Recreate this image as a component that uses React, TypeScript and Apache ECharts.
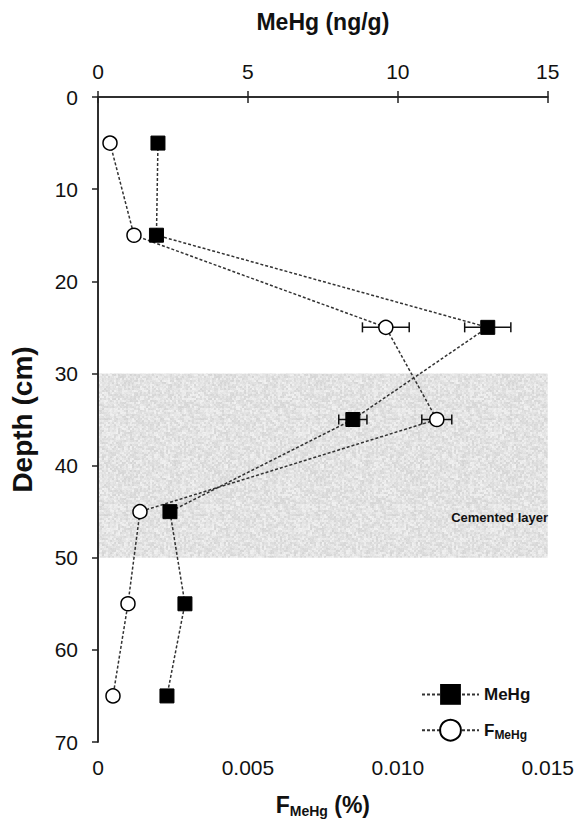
import React, { useEffect, useRef } from "react";
import * as echarts from "echarts";

const depths = [5, 15, 25, 35, 45, 55, 65];
const mehg = [2.0, 1.95, 13.0, 8.5, 2.4, 2.9, 2.3];
const mehgErr = [0, 0, 0.77, 0.47, 0, 0, 0];
const fmehg = [0.0004, 0.0012, 0.0096, 0.0113, 0.0014, 0.001, 0.0005];
const fmehgErr = [0, 0, 0.00078, 0.0005, 0, 0, 0];
const cemented = [30, 50];
const depthTicks = { min: 0, max: 70, interval: 10 };
const mehgTicks = { min: 0, max: 15, interval: 5 };
const fTicks = { min: 0, max: 0.015, interval: 0.005 };

const FONT = '"Liberation Sans", Arial, sans-serif';

function makeTexture(): HTMLCanvasElement | null {
  if (typeof document === "undefined") return null;
  const c = document.createElement("canvas");
  const n = 96;
  c.width = n;
  c.height = n;
  const ctx = c.getContext("2d");
  if (!ctx) return null;
  const img = ctx.createImageData(n, n);
  const hash = (i: number, j: number) => {
    const s = Math.sin(i * 12.9898 + j * 78.233) * 43758.5453;
    return s - Math.floor(s);
  };
  for (let y = 0; y < n; y++) {
    for (let x = 0; x < n; x++) {
      const a = hash(Math.floor(x / 2), Math.floor(y / 2));
      const b = hash(x + 17, y + 31);
      const v = Math.round(236 - a * 26 + b * 8);
      const k = (y * n + x) * 4;
      img.data[k] = v;
      img.data[k + 1] = v;
      img.data[k + 2] = v;
      img.data[k + 3] = 255;
    }
  }
  ctx.putImageData(img, 0, 0);
  return c;
}

function errRender(params: any, api: any) {
  const x = api.value(0);
  const y = api.value(1);
  const e = api.value(2);
  if (!e) return null;
  const p1 = api.coord([x - e, y]);
  const p2 = api.coord([x + e, y]);
  const cap = 5;
  const style = { stroke: "#111", lineWidth: 1.5 };
  return {
    type: "group",
    children: [
      { type: "line", shape: { x1: p1[0], y1: p1[1], x2: p2[0], y2: p2[1] }, style },
      { type: "line", shape: { x1: p1[0], y1: p1[1] - cap, x2: p1[0], y2: p1[1] + cap }, style },
      { type: "line", shape: { x1: p2[0], y1: p2[1] - cap, x2: p2[0], y2: p2[1] + cap }, style },
    ],
  };
}

export default function App() {
  const ref = useRef<HTMLDivElement>(null);
  useEffect(() => {
    if (!ref.current) return;
    const chart = echarts.init(ref.current, undefined, { renderer: "svg" });
    const tex = makeTexture();
    const axisLine = { show: true, lineStyle: { color: "#222", width: 1.5 } };
    const axisTick = { show: true, length: 6, inside: false, lineStyle: { color: "#222", width: 1.5 } };
    const axisLabel = { color: "#111", fontFamily: FONT, fontSize: 21 };
    const option: any = {
      animation: false,
      backgroundColor: "#fff",
      grid: { left: 93, right: 24, top: 97, bottom: 72 },
      xAxis: [
        {
          type: "value",
          position: "bottom",
          ...fTicks,
          axisLine,
          axisTick,
          splitLine: { show: false },
          axisLabel: {
            ...axisLabel,
            margin: 15,
            formatter: (v: number) => (v === 0 ? "0" : v.toFixed(3)),
          },
          name: "{a|F}{b|MeHg}{a| (%)}",
          nameLocation: "middle",
          nameGap: 50,
          nameTextStyle: {
            rich: {
              a: { fontFamily: FONT, fontWeight: "bold", fontSize: 23, color: "#111" },
              b: { fontFamily: FONT, fontWeight: "bold", fontSize: 14, color: "#111", verticalAlign: "bottom", padding: [12, 0, 0, 0] },
            },
          },
        },
        {
          type: "value",
          position: "top",
          ...mehgTicks,
          axisLine,
          axisTick,
          splitLine: { show: false },
          axisLabel: { ...axisLabel, margin: 15 },
          name: "MeHg (ng/g)",
          nameLocation: "middle",
          nameGap: 64,
          nameTextStyle: { fontFamily: FONT, fontWeight: "bold", fontSize: 23, color: "#111" },
        },
      ],
      yAxis: [
        {
          type: "value",
          inverse: true,
          position: "left",
          ...depthTicks,
          axisLine,
          axisTick,
          splitLine: { show: false },
          axisLabel: { ...axisLabel, margin: 20 },
          name: "Depth (cm)",
          nameLocation: "middle",
          nameGap: 62,
          nameRotate: 90,
          nameTextStyle: { fontFamily: FONT, fontWeight: "bold", fontSize: 28, color: "#111" },
        },
        {
          type: "value",
          inverse: true,
          position: "right",
          ...depthTicks,
          axisLine,
          axisTick: { show: false },
          axisLabel: { show: false },
          splitLine: { show: false },
        },
      ],
      legend: {
        orient: "vertical",
        left: 416,
        top: 679,
        itemWidth: 57,
        itemHeight: 26,
        itemGap: 14,
        data: ["MeHg", "FMeHg"],
        formatter: (name: string) => (name === "FMeHg" ? "{a|F}{b|MeHg}" : "{a|MeHg}"),
        textStyle: {
          rich: {
            a: { fontFamily: FONT, fontWeight: "bold", fontSize: 17, color: "#111" },
            b: { fontFamily: FONT, fontWeight: "bold", fontSize: 12, color: "#111", verticalAlign: "bottom", padding: [10, 0, 0, 0] },
          },
        },
      },
      graphic: [
        {
          type: "text",
          right: 29,
          top: 511,
          style: { text: "Cemented layer", fontFamily: FONT, fontWeight: "bold", fontSize: 13, fill: "#111" },
          z: 10,
        },
      ],
      series: [
        {
          name: "MeHg",
          type: "line",
          xAxisIndex: 1,
          yAxisIndex: 0,
          data: depths.map((d, i) => [mehg[i], d]),
          symbol: "rect",
          symbolSize: 14,
          itemStyle: { color: "#000", borderColor: "#000" },
          lineStyle: { color: "#333", width: 1.5, type: [3, 2] },
          z: 4,
          markArea: {
            silent: true,
            itemStyle: { color: tex ? { image: tex, repeat: "repeat" } : "#dcdcdc" },
            data: [[{ yAxis: cemented[0] }, { yAxis: cemented[1] }]],
            z: 0,
          },
        },
        {
          name: "FMeHg",
          type: "line",
          xAxisIndex: 0,
          yAxisIndex: 0,
          data: depths.map((d, i) => [fmehg[i], d]),
          symbol: "circle",
          symbolSize: 14,
          itemStyle: { color: "#fff", borderColor: "#000", borderWidth: 1.5 },
          lineStyle: { color: "#333", width: 1.5, type: [3, 2] },
          z: 4,
        },
        {
          type: "custom",
          xAxisIndex: 1,
          yAxisIndex: 0,
          renderItem: errRender,
          data: depths.map((d, i) => [mehg[i], d, mehgErr[i]]),
          z: 3,
          silent: true,
        },
        {
          type: "custom",
          xAxisIndex: 0,
          yAxisIndex: 0,
          renderItem: errRender,
          data: depths.map((d, i) => [fmehg[i], d, fmehgErr[i]]),
          z: 3,
          silent: true,
        },
      ],
    };
    chart.setOption(option);
    return () => chart.dispose();
  }, []);
  return <div ref={ref} style={{ width: 577, height: 823, position: "fixed", left: 0, top: 0 }} />;
}
